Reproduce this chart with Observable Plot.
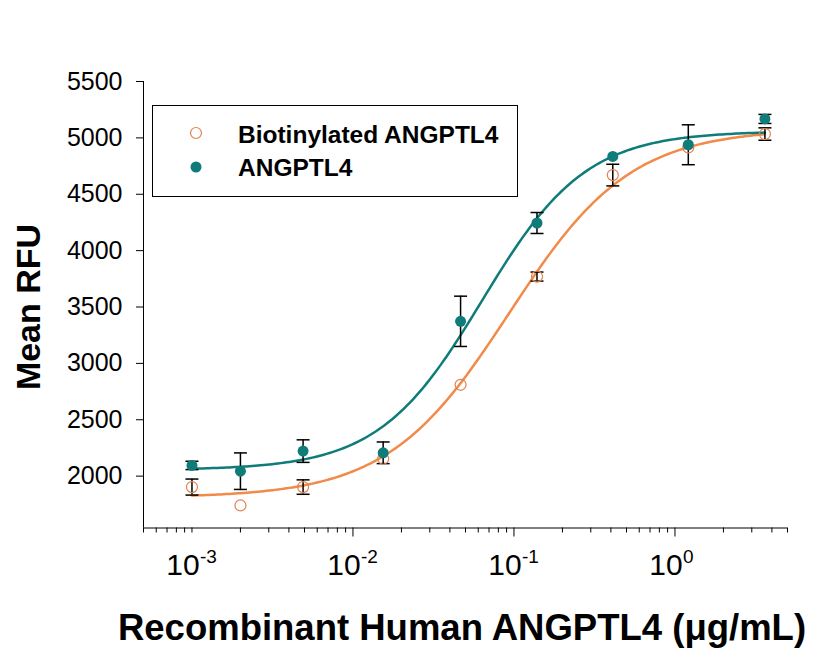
<!DOCTYPE html>
<html>
<head>
<meta charset="utf-8">
<script src="https://cdn.jsdelivr.net/npm/d3@7"></script>
<script src="https://cdn.jsdelivr.net/npm/@observablehq/plot@0.6"></script>
<style>
  html, body { margin: 0; padding: 0; background: #fff; }
  #chart svg { display: block; }
</style>
</head>
<body>
<div id="chart"></div>
<script>
// Concentration of recombinant human ANGPTL4 (µg/mL)
const concentration = [0.001, 0.002, 0.0049, 0.0154, 0.0466, 0.139, 0.411, 1.21, 3.62];

// Mean RFU and error (SD) per concentration; 0 = no error bar drawn
const angptl4 = [2095, 2044, 2222, 2207, 3373, 4245, 4835, 4939, 5168];
const angptl4Err = [37, 162, 100, 96, 223, 93, 0, 177, 40];
const biotinylated = [1903, 1740, 1903, 2154, 2810, 3770, 4670, 4915, 5034];
const biotinylatedErr = [71, 0, 64, 0, 0, 40, 96, 0, 55];

// Four-parameter logistic fits: [bottom, top, EC50, Hill slope]
const angptl4Fit = [2055, 5060, 0.0634, 1.35];
const biotinylatedFit = [1810, 5080, 0.0933, 1.15];

const seriesNames = ["Biotinylated ANGPTL4", "ANGPTL4"];
const yTicks = [2000, 2500, 3000, 3500, 4000, 4500, 5000, 5500];
const xLabelValues = [0.001, 0.01, 0.1, 1];
const xLabelExponents = ["-3", "-2", "-1", "0"];
const xMajorTicks = [0.01, 0.1, 1];

const tealColor = "#0f7c79";
const orangeLine = "#f28a4a";
const orangeMark = "#e0824f";
const font = "'Liberation Sans', Arial, Helvetica, sans-serif";

const xDomain = [5e-4, 5];
const yDomain = [1540, 5500];

// every 1..9 × 10^n position inside the x domain
const xMinorTicks = [];
for (let n = -4; n <= 0; n++) {
  for (let k = 1; k <= 9; k++) {
    const v = +(k * Math.pow(10, n)).toPrecision(3);
    if (v >= xDomain[0] && v <= xDomain[1] && !xMajorTicks.includes(v)) xMinorTicks.push(v);
  }
}

const points = concentration.map((c, i) => ({c, y: angptl4[i], err: angptl4Err[i], series: seriesNames[1]}))
  .concat(concentration.map((c, i) => ({c, y: biotinylated[i], err: biotinylatedErr[i], series: seriesNames[0]})));
const errPoints = points.filter(d => d.err > 0);

function logistic([bottom, top, ec50, hill], x) {
  return bottom + (top - bottom) / (1 + Math.pow(ec50 / x, hill));
}
function fitCurve(params) {
  const lo = Math.log10(concentration[0]), hi = Math.log10(concentration[concentration.length - 1]);
  return d3.range(0, 201).map(i => {
    const x = Math.pow(10, lo + (hi - lo) * i / 200);
    return {c: x, y: logistic(params, x)};
  });
}

// horizontal cap for the error bars
const capSymbol = {
  draw(context, size) {
    const w = Math.sqrt(size / Math.PI);
    context.moveTo(-w, 0);
    context.lineTo(w, 0);
  }
};

const plot = Plot.plot({
  width: 823,
  height: 653,
  marginLeft: 143,
  marginRight: 36,
  marginTop: 81,
  marginBottom: 125.5,
  style: {fontFamily: font, color: "#000", background: "#fff"},
  x: {type: "log", domain: xDomain},
  y: {domain: yDomain},
  marks: [
    Plot.ruleY([yDomain[0]], {stroke: "#000", strokeWidth: 1}),
    Plot.ruleX([xDomain[0]], {stroke: "#000", strokeWidth: 1}),
    Plot.axisY({ticks: yTicks, tickSize: 7, tickPadding: 14, tickFormat: "d", fontSize: 25, label: null}),
    Plot.axisX({ticks: xMinorTicks, tickSize: 5, tickFormat: () => "", label: null}),
    Plot.axisX({ticks: xMajorTicks, tickSize: 9, tickFormat: () => "", label: null}),
    Plot.text(xLabelValues, {x: d => d, frameAnchor: "bottom", dy: 47, dx: -9, text: () => "10",
      fontSize: 30, textAnchor: "middle", fill: "#000"}),
    Plot.text(xLabelValues, {x: d => d, frameAnchor: "bottom", dy: 35, dx: 8, text: (d, i) => xLabelExponents[i],
      fontSize: 19, textAnchor: "start", fill: "#000"}),
    Plot.line(fitCurve(biotinylatedFit), {x: "c", y: "y", stroke: orangeLine, strokeWidth: 2.5}),
    Plot.line(fitCurve(angptl4Fit), {x: "c", y: "y", stroke: tealColor, strokeWidth: 2.5}),
    Plot.ruleX(errPoints, {x: "c", y1: d => d.y - d.err, y2: d => d.y + d.err, stroke: "#000", strokeWidth: 1.5}),
    Plot.dot(errPoints, {x: "c", y: d => d.y + d.err, symbol: capSymbol, r: 6.5, stroke: "#000", strokeWidth: 1.5}),
    Plot.dot(errPoints, {x: "c", y: d => d.y - d.err, symbol: capSymbol, r: 6.5, stroke: "#000", strokeWidth: 1.5}),
    Plot.dot(points.filter(d => d.series === seriesNames[0]), {x: "c", y: "y", r: 5.5, fill: "none", stroke: orangeMark, strokeWidth: 1.2}),
    Plot.dot(points.filter(d => d.series === seriesNames[1]), {x: "c", y: "y", r: 5.5, fill: tealColor, stroke: "none"})
  ]
});

const svg = d3.select(plot);

// axis titles
svg.append("text")
  .attr("transform", "translate(40,307) rotate(-90)")
  .attr("text-anchor", "middle")
  .attr("font-family", font).attr("font-weight", "bold").attr("font-size", 34)
  .attr("fill", "#000")
  .text("Mean RFU");
svg.append("text")
  .attr("x", 462).attr("y", 640)
  .attr("text-anchor", "middle")
  .attr("font-family", font).attr("font-weight", "bold").attr("font-size", 36.5)
  .attr("fill", "#000")
  .text("Recombinant Human ANGPTL4 (\u03bcg/mL)");

// legend
const legend = svg.append("g");
legend.append("rect")
  .attr("x", 152.5).attr("y", 105.5).attr("width", 365).attr("height", 91)
  .attr("fill", "#fff").attr("stroke", "#000").attr("stroke-width", 1);
legend.append("circle").attr("cx", 196).attr("cy", 133).attr("r", 5.5)
  .attr("fill", "none").attr("stroke", orangeMark).attr("stroke-width", 1.2);
legend.append("circle").attr("cx", 196).attr("cy", 167).attr("r", 5.5)
  .attr("fill", tealColor);
legend.selectAll("text.entry").data(seriesNames).join("text")
  .attr("class", "entry")
  .attr("x", 238).attr("y", (d, i) => 143 + i * 33)
  .attr("text-anchor", "start")
  .attr("font-family", font).attr("font-weight", "bold").attr("font-size", 24.5)
  .attr("fill", "#000")
  .text(d => d);

document.getElementById("chart").appendChild(plot);
</script>
</body>
</html>
